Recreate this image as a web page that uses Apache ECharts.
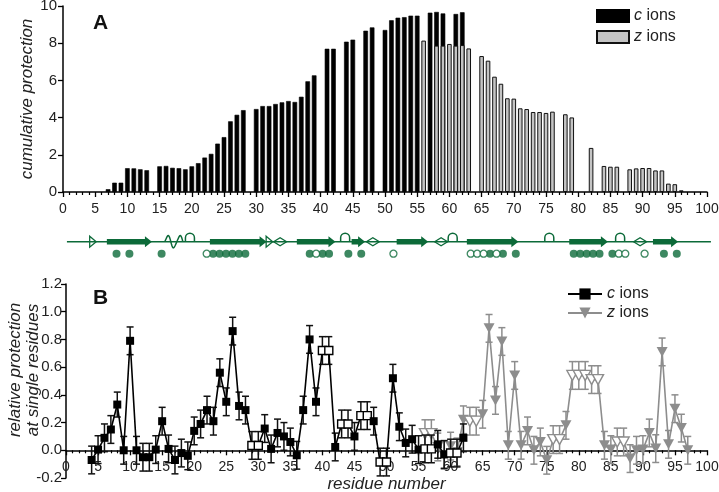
<!DOCTYPE html>
<html>
<head>
<meta charset="utf-8">
<script src="https://cdn.jsdelivr.net/npm/echarts@6/dist/echarts.min.js"></script>
<style>
  html, body { margin: 0; padding: 0; background: #fff; }
  #chart { width: 719px; height: 492px; }
</style>
</head>
<body>
<div id="chart"></div>
<script>
// ---- panel A: cumulative protection (bars), null = no fragment ----
var cCumStart = 7;
var cCum = [0.15, 0.5, 0.5, 1.28, 1.27, 1.22, 1.17, null, 1.38, 1.4,
  1.3, 1.28, 1.22, 1.38, 1.55, 1.85, 2.05, 2.6, 2.95, 3.8,
  4.15, 4.4, null, 4.46, 4.62, 4.62, 4.73, 4.82, 4.89, 4.84,
  5.12, 5.95, 6.27, null, 7.7, 7.7, null, 8.08, 8.19, null,
  8.67, 8.85, null, 8.71, 9.23, 9.37, 9.4, 9.48, 9.48, null,
  9.64, 9.68, 9.6, null, 9.57, 9.66];
var zCumStart = 56;
var zCum = [8.14, null, 7.87, 7.87, 7.96, 7.87, 7.9, 7.72, null, 7.31,
  7.06, 6.2, 5.82, 5.04, 5.02, 4.5, 4.46, 4.3, 4.3, 4.25,
  4.32, null, 4.18, 4.01, null, null, 2.37, null, 1.4, 1.36,
  1.36, null, 1.22, 1.27, 1.29, 1.29, 1.16, 1.16, 0.45, 0.42,
  0.09];

// ---- panel B: relative protection at single residues ----
var cStart = 4;
var cVals = [-0.07, 0.005, 0.09, 0.15, 0.33, 0.0, 0.79, 0.0, -0.05, -0.05,
  0.005, 0.21, 0.01, -0.07, -0.02, -0.04, 0.14, 0.19, 0.29, 0.21,
  0.56, 0.35, 0.86, 0.32, 0.29, 0.035, 0.035, 0.157, 0.01, 0.125,
  0.10, 0.06, -0.036, 0.29, 0.80, 0.35, 0.72, 0.72, 0.024, 0.19,
  0.19, 0.10, 0.25, 0.25, 0.21, -0.085, -0.085, 0.52, 0.17, 0.053,
  0.08, 0.005, 0.01, 0.01, 0.043, -0.03, -0.02, -0.02, 0.09];
var cErr = [0.1, 0.1, 0.1, 0.1, 0.09, 0.1, 0.1, 0.1, 0.1, 0.1,
  0.1, 0.1, 0.1, 0.1, 0.1, 0.1, 0.1, 0.1, 0.1, 0.1,
  0.1, 0.1, 0.1, 0.1, 0.1, 0.1, 0.1, 0.1, 0.1, 0.1,
  0.1, 0.1, 0.1, 0.1, 0.1, 0.1, 0.1, 0.1, 0.1, 0.1,
  0.1, 0.1, 0.1, 0.1, 0.1, 0.1, 0.1, 0.1, 0.1, 0.1,
  0.1, 0.1, 0.1, 0.1, 0.1, 0.1, 0.1, 0.1, 0.1];
var cOpen = [29, 30, 40, 41, 43, 44, 46, 47, 49, 50, 56, 57, 60, 61];

var zStart = 56;
var zVals = [0.12, 0.12, 0.024, -0.036, 0.03, -0.012, 0.22, 0.21, 0.21, 0.26,
  0.88, 0.36, 0.785, 0.036, 0.54, 0.036, 0.14, 0.0, 0.06, -0.072,
  0.077, 0.077, 0.18, 0.54, 0.54, 0.54, 0.51, 0.51, 0.036, 0.005,
  0.06, 0.06, -0.06, 0.0, 0.005, 0.125, 0.012, 0.71, 0.043, 0.30,
  0.16, 0.0];
var zErr = [0.1, 0.1, 0.1, 0.1, 0.1, 0.1, 0.1, 0.1, 0.1, 0.1,
  0.1, 0.1, 0.1, 0.1, 0.1, 0.1, 0.1, 0.1, 0.1, 0.1,
  0.1, 0.1, 0.1, 0.1, 0.1, 0.1, 0.1, 0.1, 0.1, 0.1,
  0.1, 0.1, 0.1, 0.1, 0.1, 0.1, 0.1, 0.1, 0.1, 0.1,
  0.1, 0.1];
var zOpen = [56, 57, 63, 64, 76, 77, 79, 80, 81, 82, 83, 86, 87];

// ---- secondary structure strip (residue numbers) ----
var strands = [[6.5, 13.5], [22.5, 31.3], [36, 42], [44.5, 46.6], [51.5, 56.4], [62.4, 70.4], [78.3, 84.3], [91.3, 95.2]];
var helices = [[15.5, 18.3]];
var turns = [19.4, 43.5, 60.2, 75.2, 86.2];
var diamonds = [33.4, 47.8, 58.4, 89.3];
var openTris = [4.3, 31.7];
var dotsFilled = [8, 10, 15, 23, 24, 25, 26, 27, 28, 38, 40, 41, 44, 46, 66, 68, 70, 79, 80, 81, 82, 83, 85, 93, 95];
var dotsOpen = [22, 39, 51, 63, 64, 65, 67, 86, 87, 90];

var FONT = 'Liberation Sans';
var GREEN = '#0c6a39';
var GREY = '#8d8d8d';
var LINE_Y = 18.3, DOT_Y = 6.3;
var TRI_DOWN = 'path://M0,0 L10,0 L5,8.7 Z';

function toPairs(start, arr) {
  return arr.map(function (v, i) { return [start + i, v]; });
}

function pointData(start, vals, open, fill, edge) {
  return vals.map(function (v, i) {
    var r = start + i;
    var isOpen = open.indexOf(r) >= 0;
    return { value: [r, v], itemStyle: { color: isOpen ? '#fff' : fill, borderColor: edge, borderWidth: isOpen ? 1.4 : 0 } };
  });
}

function errData(start, vals, errs) {
  return vals.map(function (v, i) { return [start + i, v - errs[i], v + errs[i]]; });
}

function errBar(color) {
  return function (params, api) {
    var top = api.coord([api.value(0), api.value(2)]);
    var bot = api.coord([api.value(0), api.value(1)]);
    var w = 3.5;
    var st = { stroke: color, lineWidth: 1.5 };
    return { type: 'group', children: [
      { type: 'line', shape: { x1: top[0], y1: top[1], x2: bot[0], y2: bot[1] }, style: st },
      { type: 'line', shape: { x1: top[0] - w, y1: top[1], x2: top[0] + w, y2: top[1] }, style: st },
      { type: 'line', shape: { x1: bot[0] - w, y1: bot[1], x2: bot[0] + w, y2: bot[1] }, style: st }
    ] };
  };
}

function axisX(grid, offset) {
  return {
    type: 'value', gridIndex: grid, min: 0, max: 100, interval: 5, offset: offset,
    splitLine: { show: false },
    axisLine: { onZero: false, lineStyle: { color: '#000', width: 1.5 } },
    axisTick: { length: 5, lineStyle: { color: '#000', width: 1.3 } },
    minorTick: { show: true, splitNumber: 5, length: 3, lineStyle: { color: '#000', width: 1.2 } },
    axisLabel: { color: '#222', fontFamily: FONT, fontSize: 14, margin: 10 }
  };
}

var chart = echarts.init(document.getElementById('chart'));

var option = {
  animation: false,
  backgroundColor: '#fff',
  title: [
    { text: 'A', left: 88, top: 8, textStyle: { fontFamily: FONT, fontSize: 21, fontWeight: 'bold', color: '#111' } },
    { text: 'B', left: 88, top: 283, textStyle: { fontFamily: FONT, fontSize: 21, fontWeight: 'bold', color: '#111' } }
  ],
  legend: [
    {
      data: ['c bar', 'z bar'], orient: 'vertical', left: 591, top: 3,
      itemWidth: 32, itemHeight: 12, itemGap: 5, icon: 'rect',
      formatter: function (n) { return n === 'c bar' ? '{i|c} ions' : '{i|z} ions'; },
      textStyle: { fontFamily: FONT, fontSize: 16, color: '#222',
        rich: { i: { fontStyle: 'italic', fontFamily: FONT, fontSize: 16, color: '#222' } } }
    },
    {
      data: ['c ions', 'z ions'], orient: 'vertical', left: 562, top: 281,
      itemWidth: 34, itemHeight: 14, itemGap: 3,
      formatter: function (n) { return n === 'c ions' ? '{i|c} ions' : '{i|z} ions'; },
      textStyle: { fontFamily: FONT, fontSize: 16, color: '#222',
        rich: { i: { fontStyle: 'italic', fontFamily: FONT, fontSize: 16, color: '#222' } } }
    }
  ],
  grid: [
    { left: 63, top: 6, width: 644, height: 186, outerBoundsMode: 'none', containLabel: false },
    { left: 66, top: 284, width: 641, height: 194, outerBoundsMode: 'none', containLabel: false },
    { left: 65, top: 228, width: 644, height: 32, outerBoundsMode: 'none', containLabel: false }
  ],
  xAxis: [
    axisX(0, 0),
    // panel B x axis sits on the y = 0 line (28 px above the grid bottom)
    Object.assign(axisX(1, -27.7), {
      name: 'residue number', nameLocation: 'middle', nameGap: 25,
      nameTextStyle: { fontFamily: FONT, fontSize: 17, fontStyle: 'italic', color: '#222' }
    }),
    { type: 'value', gridIndex: 2, min: 0, max: 100, show: false }
  ],
  yAxis: [
    {
      type: 'value', gridIndex: 0, min: 0, max: 10, interval: 2,
      name: 'cumulative protection', nameLocation: 'middle', nameGap: 27, nameMoveOverlap: false,
      nameTextStyle: { fontFamily: FONT, fontSize: 17, fontStyle: 'italic', color: '#222' },
      splitLine: { show: false },
      axisLine: { show: true, onZero: false, lineStyle: { color: '#000', width: 1.5 } },
      axisTick: { show: true, length: 5, lineStyle: { color: '#000', width: 1.3 } },
      axisLabel: { color: '#222', fontFamily: FONT, fontSize: 15, margin: 6 }
    },
    {
      type: 'value', gridIndex: 1, min: -0.2, max: 1.2, interval: 0.2,
      name: 'relative protection\nat single residues', nameLocation: 'middle', nameGap: 24, nameMoveOverlap: false,
      nameTextStyle: { fontFamily: FONT, fontSize: 17, fontStyle: 'italic', color: '#222', lineHeight: 18,
        padding: [0, 0, 0, 22] },
      splitLine: { show: false },
      axisLine: { show: true, onZero: false, lineStyle: { color: '#000', width: 1.5 } },
      axisTick: { show: true, length: 5, lineStyle: { color: '#000', width: 1.3 } },
      axisLabel: { color: '#222', fontFamily: FONT, fontSize: 15, margin: 4,
        formatter: function (v) { return v.toFixed(1); } }
    },
    { type: 'value', gridIndex: 2, min: 0, max: 32, show: false }
  ],
  series: [
    // panel A bars
    {
      name: 'c bar', type: 'bar', xAxisIndex: 0, yAxisIndex: 0,
      data: toPairs(cCumStart, cCum), barWidth: 4.6, barGap: '-100%',
      itemStyle: { color: '#000', borderColor: '#000', borderWidth: 0.6 }
    },
    {
      name: 'z bar', type: 'bar', xAxisIndex: 0, yAxisIndex: 0,
      data: toPairs(zCumStart, zCum), barWidth: 4.6, barGap: '-100%',
      itemStyle: { color: '#c4c4c4', borderColor: '#111', borderWidth: 1 }
    },
    // structure strip
    {
      type: 'line', xAxisIndex: 2, yAxisIndex: 2, data: [[0.3, LINE_Y], [100.3, LINE_Y]],
      symbol: 'none', lineStyle: { color: GREEN, width: 1.6 }, silent: true
    },
    {
      type: 'custom', xAxisIndex: 2, yAxisIndex: 2, data: strands, silent: true,
      renderItem: function (params, api) {
        var a = api.coord([api.value(0), LINE_Y]);
        var b = api.coord([api.value(1), LINE_Y]);
        var y = a[1], head = 7, bh = 2.8, hh = 5.5;
        return { type: 'polygon', shape: { points: [
          [a[0], y - bh], [b[0] - head, y - bh], [b[0] - head, y - hh], [b[0], y],
          [b[0] - head, y + hh], [b[0] - head, y + bh], [a[0], y + bh]] },
          style: { fill: GREEN } };
      }
    },
    {
      type: 'custom', xAxisIndex: 2, yAxisIndex: 2, data: helices, silent: true,
      renderItem: function (params, api) {
        var a = api.coord([api.value(0), LINE_Y]);
        var b = api.coord([api.value(1), LINE_Y]);
        var pts = [];
        for (var k = 0; k <= 30; k++) {
          var t = k / 30;
          pts.push([a[0] + (b[0] - a[0]) * t, a[1] - 6 * Math.sin(t * 3 * Math.PI) + 0.8 * Math.sin(t * 6 * Math.PI)]);
        }
        return { type: 'polyline', shape: { points: pts }, style: { stroke: GREEN, lineWidth: 1.5, fill: null } };
      }
    },
    {
      type: 'custom', xAxisIndex: 2, yAxisIndex: 2, data: turns.map(function (t) { return [t]; }), silent: true,
      renderItem: function (params, api) {
        var c = api.coord([api.value(0), LINE_Y]);
        var x = c[0], y = c[1], r = 4.5;
        return { type: 'group', children: [
          { type: 'rect', shape: { x: x - r + 0.8, y: y - 1.5, width: 2 * r - 1.6, height: 3 }, style: { fill: '#fff' } },
          { type: 'path', shape: { pathData: 'M' + (x - r) + ',' + y + ' L' + (x - r) + ',' + (y - 4) +
            ' A' + r + ',' + r + ' 0 0 1 ' + (x + r) + ',' + (y - 4) + ' L' + (x + r) + ',' + y },
            style: { stroke: GREEN, lineWidth: 1.5, fill: null } }
        ] };
      }
    },
    {
      type: 'custom', xAxisIndex: 2, yAxisIndex: 2, data: diamonds.map(function (t) { return [t]; }), silent: true,
      renderItem: function (params, api) {
        var c = api.coord([api.value(0), LINE_Y]);
        return { type: 'polygon', shape: { points: [[c[0] - 6.5, c[1]], [c[0], c[1] - 4], [c[0] + 6.5, c[1]], [c[0], c[1] + 4]] },
          style: { fill: '#fff', stroke: GREEN, lineWidth: 1.3 } };
      }
    },
    {
      type: 'custom', xAxisIndex: 2, yAxisIndex: 2, data: openTris.map(function (t) { return [t]; }), silent: true,
      renderItem: function (params, api) {
        var c = api.coord([api.value(0), LINE_Y]);
        return { type: 'polygon', shape: { points: [[c[0] - 3, c[1] - 5.5], [c[0] + 3.5, c[1]], [c[0] - 3, c[1] + 5.5]] },
          style: { fill: '#fff', stroke: GREEN, lineWidth: 1.3 } };
      }
    },
    {
      type: 'scatter', xAxisIndex: 2, yAxisIndex: 2, symbolSize: 8, silent: true,
      data: dotsFilled.map(function (r) { return [r, DOT_Y]; }),
      itemStyle: { color: GREEN }
    },
    {
      type: 'scatter', xAxisIndex: 2, yAxisIndex: 2, symbolSize: 7, silent: true,
      data: dotsOpen.map(function (r) { return [r, DOT_Y]; }),
      itemStyle: { color: '#fff', borderColor: GREEN, borderWidth: 1.3 }
    },
    // panel B
    {
      type: 'custom', xAxisIndex: 1, yAxisIndex: 1, data: errData(zStart, zVals, zErr),
      renderItem: errBar(GREY), silent: true, z: 2
    },
    {
      name: 'z ions', type: 'line', xAxisIndex: 1, yAxisIndex: 1,
      data: pointData(zStart, zVals, zOpen, GREY, GREY),
      symbol: TRI_DOWN, symbolSize: [11, 10], showAllSymbol: true,
      lineStyle: { color: GREY, width: 1.6 }, itemStyle: { color: GREY, borderColor: GREY }, z: 3
    },
    {
      type: 'custom', xAxisIndex: 1, yAxisIndex: 1, data: errData(cStart, cVals, cErr),
      renderItem: errBar('#111'), silent: true, z: 4
    },
    {
      name: 'c ions', type: 'line', xAxisIndex: 1, yAxisIndex: 1,
      data: pointData(cStart, cVals, cOpen, '#000', '#000'),
      symbol: 'rect', symbolSize: 8, showAllSymbol: true,
      lineStyle: { color: '#000', width: 1.6 }, itemStyle: { color: '#000', borderColor: '#000' }, z: 5
    }
  ]
};

chart.setOption(option);
</script>
</body>
</html>
